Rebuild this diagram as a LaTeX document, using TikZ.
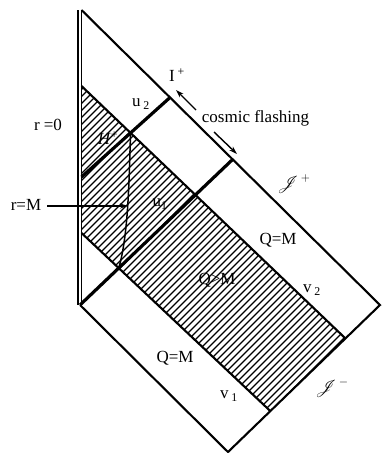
\documentclass[tikz,border=0pt]{standalone}
\usepackage{fontspec}
\setmainfont{Liberation Serif}
\usepackage{mathrsfs}
\usetikzlibrary{arrows.meta,calc}
\begin{document}
\begin{tikzpicture}[x=1pt,y=-1pt,
  edge/.style={line width=2.1pt},
  thickedge/.style={line width=3.2pt},
  wall/.style={line width=1.4pt},
  hatch/.style={line width=1.1pt},
  lbl/.style={font=\fontsize{17}{20}\selectfont, inner sep=0pt},
  flash/.style={line width=1.4pt,-{Stealth[length=8pt,width=5pt]}}]
\useasboundingbox (0,0) rectangle (381,453);
% main points
\coordinate (T) at (81.5,10);
\coordinate (R) at (380,305);
\coordinate (B) at (228,452);
\coordinate (L) at (80,305);
\coordinate (vA1) at (81.5,86);
\coordinate (vAf) at (400,390.6);
\coordinate (vB1) at (81.5,233);
\coordinate (vBf) at (400,533.3);
\coordinate (uA1) at (81.5,177);
\coordinate (uAf) at (200,70.5);
\coordinate (uBf) at (260,133.3);
\coordinate (vA2) at (intersection of vA1--vAf and B--R);
\coordinate (vB2) at (intersection of vB1--vBf and B--R);
\coordinate (uA2) at (intersection of uA1--uAf and T--R);
\coordinate (uB2) at (intersection of L--uBf and T--R);
\coordinate (P1) at (intersection of uA1--uAf and vA1--vAf);
\coordinate (P2) at (intersection of L--uBf and vB1--vBf);
% hatching
\begin{scope}
  \clip (vA1) -- (vA2) -- (vB2) -- (vB1) -- cycle;
  \foreach \c in {150,157,...,720} \draw[hatch] (\c-500,500) -- (\c,0);
\end{scope}
% r=0 wall (double line)
\draw[wall] (78,10) -- (78,305);
\draw[wall] (T) -- (81.5,305);
% outer boundary
\draw[edge,line join=miter] (T) -- (R) -- (B) -- (L);
% v lines
\draw[edge] (vA1) -- (vA2);
\draw[edge] (vB1) -- (vB2);
% u lines
\draw[thickedge] (uA1) -- (uA2);
\draw[thickedge] (L) -- (uB2);
% r=M curve
\draw[line width=1.5pt] (P1) .. controls (129,180) and (128.5,235) .. (P2);
\coordinate (aM) at (128,206);
% labels
\node[lbl] (r0) at (48,125) {r =0};
\node[lbl] (rM) at (26,205) {r=M};
\draw[line width=1.1pt,-{Stealth[length=8pt,width=5pt]}] ([xshift=6pt]rM.east |- aM) -- (aM);
\node[lbl] (Ip) at (177,75) {I\,\textsuperscript{+}};
\node[lbl] (u2) at (141,104) {u\,\textsubscript{2}};
\node[lbl] (Hp) at (108,138) {\textit{H}\textsuperscript{+}};
\node[lbl] (cf) at (255.5,118) {cosmic flashing};
\coordinate (f1a) at (196,110);
\coordinate (f1b) at (176,90);
\coordinate (f2a) at (214,132);
\coordinate (f2b) at (237,154);
\draw[flash] (f1a) -- (f1b);
\draw[flash] (f2a) -- (f2b);
\node[lbl] (Jp) at (294,184) {$\mathscr{J}^{\,+}$};
\node[lbl] (u1) at (160,204) {u\textsubscript{1}};
\node[lbl] (QMu) at (278,240) {Q=M};
\node[lbl] (QgM) at (217,280) {Q>M};
\node[lbl] (v2) at (312,290) {v\,\textsubscript{2}};
\node[lbl] (QMl) at (175,358) {Q=M};
\node[lbl] (v1) at (229,396) {v\,\textsubscript{1}};
\node[lbl] (Jm) at (332,388) {$\mathscr{J}^{\,-}$};
\end{tikzpicture}
\end{document}
